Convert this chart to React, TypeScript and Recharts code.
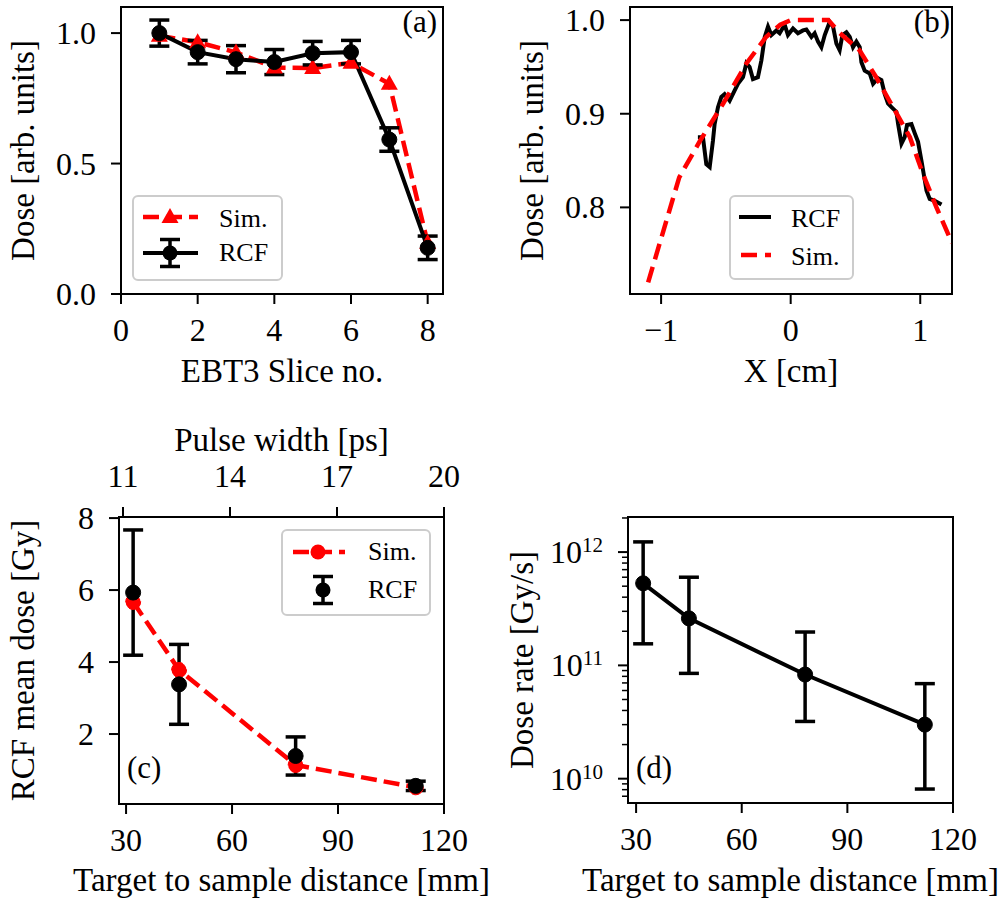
import React from 'react';
import { ComposedChart, Line, XAxis, YAxis, ErrorBar, ReferenceArea } from 'recharts';

const FONT = '"Liberation Serif", "Times New Roman", serif';
const RED = '#ff0000';
const BLACK = '#000000';

// (a) dose per EBT3 slice
const slices = [1, 2, 3, 4, 5, 6, 7, 8];
const sliceSim = [0.99, 0.965, 0.926, 0.868, 0.866, 0.886, 0.806, 0.195];
const sliceRcf = [1.0, 0.927, 0.9, 0.889, 0.923, 0.927, 0.592, 0.177];
const sliceRcfErr = [0.05, 0.045, 0.052, 0.048, 0.045, 0.045, 0.045, 0.045];

// (b) lateral dose profile
const profileX = [
  -0.716, -0.677, -0.651, -0.625, -0.6, -0.587, -0.561, -0.535, -0.51, -0.471, -0.432, -0.407, -0.368,
  -0.342, -0.317, -0.291, -0.253, -0.226, -0.2, -0.175, -0.149, -0.11, -0.085, -0.046, -0.021, 0.018,
  0.056, 0.095, 0.121, 0.16, 0.185, 0.211, 0.237, 0.263, 0.301, 0.327, 0.353, 0.378, 0.399, 0.43,
  0.456, 0.481, 0.507, 0.533, 0.546, 0.571, 0.61, 0.636, 0.674, 0.7, 0.726, 0.751, 0.778, 0.816,
  0.829, 0.855, 0.88, 0.898, 0.932, 0.958, 0.983, 1.009, 1.035, 1.048, 1.073, 1.112, 1.164,
];
const profileRcf = [
  0.875, 0.875, 0.846, 0.843, 0.871, 0.889, 0.907, 0.918, 0.921, 0.914, 0.925, 0.932, 0.939,
  0.954, 0.95, 0.937, 0.939, 0.957, 0.982, 0.993, 0.984, 0.989, 0.986, 0.995, 0.984, 0.991,
  0.986, 0.989, 0.99, 0.982, 0.986, 0.977, 0.971, 0.984, 0.998, 0.993, 0.975, 0.968, 0.984, 0.987,
  0.982, 0.971, 0.977, 0.971, 0.955, 0.946, 0.943, 0.932, 0.938, 0.936, 0.921, 0.911, 0.907, 0.902,
  0.889, 0.868, 0.875, 0.888, 0.889, 0.879, 0.87, 0.85, 0.829, 0.818, 0.809, 0.807, 0.803,
];
const simX = [-1.1, -0.86, -0.7, -0.52, -0.34, -0.19, -0.08, 0.0, 0.29, 0.38, 0.53, 0.66, 0.79, 0.92, 1.02, 1.125, 1.245];
const simProfile = [0.72, 0.832, 0.871, 0.911, 0.954, 0.982, 0.995, 1.0, 1.0, 0.986, 0.968, 0.939, 0.907, 0.875, 0.836, 0.8, 0.762];

// (c) mean dose vs distance
const distances = [32, 45, 78, 112];
const meanDoseSim = [5.67, 3.78, 1.14, 0.52];
const meanDoseRcf = [5.93, 3.38, 1.39, 0.56];
const meanDoseErr = [1.74, 1.11, 0.53, 0.13];
const pulseTicks = [11, 14, 17, 20];
// twin axis: pulse width [ps] <-> distance [mm]
const pulseToDist = (p: number) => 29.14 + (p - 11) * 10.096;
const distToPulse = (d: number) => Math.round((d - 29.14) / 10.096 + 11);

// (d) dose rate vs distance
const doseRate = [5.3e11, 2.6e11, 8.3e10, 3.0e10];
const doseRateLow = [1.55e11, 8.5e10, 3.2e10, 8.1e9];
const doseRateHigh = [1.23e12, 6.0e11, 1.97e11, 6.9e10];

const sliceRows = slices.map((s, i) => ({ slice: s, sim: sliceSim[i], rcf: sliceRcf[i], rcfErr: sliceRcfErr[i] }));
const profileRows = profileX.map((x, i) => ({ x, dose: profileRcf[i] }));
const simRows = simX.map((x, i) => ({ x, dose: simProfile[i] }));
const meanRows = distances.map((d, i) => ({ dist: d, sim: meanDoseSim[i], rcf: meanDoseRcf[i], err: meanDoseErr[i] }));
const rateRows = distances.map((d, i) => ({
  dist: d,
  rate: doseRate[i],
  err: [doseRate[i] - doseRateLow[i], doseRateHigh[i] - doseRate[i]],
}));

const rateDomain = [6.1e9, 2.04e12];
const rateTicks = [9, 10, 11, 12]
  .flatMap((e) => [1, 2, 3, 4, 5, 6, 7, 8, 9].map((m) => m * Math.pow(10, e)))
  .filter((v) => v >= rateDomain[0] && v <= rateDomain[1]);

const fmt = (v: number, digits: number) => {
  const s = Math.abs(v).toFixed(digits);
  return v < 0 ? '\u2212' + s : s;
};

const textProps = { fontFamily: FONT, fill: BLACK };

const bottomTick = (digits: number) => (props: any) => {
  const { x, y, payload } = props;
  return (
    <g>
      <line x1={x} y1={y} x2={x} y2={y + 10} stroke={BLACK} strokeWidth={2} />
      <text x={x} y={y + 47} textAnchor="middle" fontSize={32} {...textProps}>
        {fmt(payload.value, digits)}
      </text>
    </g>
  );
};

const topTick = (props: any) => {
  const { x, y, payload } = props;
  return (
    <g>
      <line x1={x} y1={y} x2={x} y2={y - 10} stroke={BLACK} strokeWidth={2} />
      <text x={x} y={y - 30} textAnchor="middle" fontSize={32} {...textProps}>
        {distToPulse(payload.value)}
      </text>
    </g>
  );
};

const leftTick = (digits: number) => (props: any) => {
  const { x, y, payload } = props;
  return (
    <g>
      <line x1={x - 10} y1={y} x2={x} y2={y} stroke={BLACK} strokeWidth={2} />
      <text x={x - 25} y={y + 11} textAnchor="end" fontSize={32} {...textProps}>
        {fmt(payload.value, digits)}
      </text>
    </g>
  );
};

const logTick = (props: any) => {
  const { x, y, payload } = props;
  const lg = Math.log10(payload.value);
  const major = Math.abs(lg - Math.round(lg)) < 1e-6;
  if (!major) {
    return <line x1={x - 6} y1={y} x2={x} y2={y} stroke={BLACK} strokeWidth={1.5} />;
  }
  return (
    <g>
      <line x1={x - 10} y1={y} x2={x} y2={y} stroke={BLACK} strokeWidth={2} />
      <text x={x - 25} y={y + 11} textAnchor="end" fontSize={32} {...textProps}>
        10
        <tspan fontSize={21} dy={-11}>
          {Math.round(lg)}
        </tspan>
      </text>
    </g>
  );
};

const label = (value: string, position: string, offset: number, angle = 0): any => ({
  value,
  position,
  offset,
  angle,
  style: { textAnchor: 'middle', fontSize: 33, fontFamily: FONT, fill: BLACK },
});

const axisLine = { stroke: BLACK, strokeWidth: 2 };
const tickOpts = { tickSize: 0, tickMargin: 0, tickLine: false, interval: 0 as const, axisLine };

const triangleDot = (p: any) => {
  const { cx, cy, index } = p;
  return <polygon key={`tri-${index}`} points={`${cx},${cy - 9} ${cx - 8.5},${cy + 6} ${cx + 8.5},${cy + 6}`} fill={RED} />;
};

const blackDot = { r: 7.5, fill: BLACK, stroke: BLACK, strokeWidth: 1 };
const redDot = { r: 7.5, fill: RED, stroke: RED, strokeWidth: 1 };

function Overlay() {
  const box = (x: number, y: number, w: number, h: number) => (
    <rect x={x} y={y} width={w} height={h} rx={5} fill="#fff" fillOpacity={0.8} stroke="#cccccc" strokeWidth={2} />
  );
  const errMark = (x: number, y: number) => (
    <g>
      <line x1={x} y1={y - 13.5} x2={x} y2={y + 13.5} stroke={BLACK} strokeWidth={3.5} />
      <line x1={x - 10} y1={y - 13.5} x2={x + 10} y2={y - 13.5} stroke={BLACK} strokeWidth={3.5} />
      <line x1={x - 10} y1={y + 13.5} x2={x + 10} y2={y + 13.5} stroke={BLACK} strokeWidth={3.5} />
      <circle cx={x} cy={y} r={7.5} fill={BLACK} />
    </g>
  );
  const lt = { fontSize: 26, ...textProps };
  const pl = { fontSize: 31, ...textProps };
  return (
    <svg width={1005} height={904} style={{ position: 'absolute', left: 0, top: 0, pointerEvents: 'none' }}>
      {/* legend (a) */}
      {box(133, 196, 149, 84)}
      <line x1={143} y1={217} x2={198} y2={217} stroke={RED} strokeWidth={4.5} strokeDasharray="16 7" />
      <polygon points={`170,208 161.5,223 178.5,223`} fill={RED} />
      <text x={219} y={227} {...lt}>Sim.</text>
      <line x1={143} y1={253} x2={198} y2={253} stroke={BLACK} strokeWidth={4} />
      {errMark(170, 253)}
      <text x={219} y={261} {...lt}>RCF</text>

      {/* legend (b) */}
      {box(730, 196, 123, 83)}
      <line x1={739} y1={217} x2={771} y2={217} stroke={BLACK} strokeWidth={4} />
      <text x={791} y={227} {...lt}>RCF</text>
      <line x1={741} y1={255} x2={771} y2={255} stroke={RED} strokeWidth={4.5} strokeDasharray="16 8" />
      <text x={791} y={265} {...lt}>Sim.</text>

      {/* legend (c) */}
      {box(282, 530, 148, 85)}
      <line x1={293} y1={552} x2={345} y2={552} stroke={RED} strokeWidth={4.5} strokeDasharray="16 7" />
      <circle cx={318} cy={552} r={7.5} fill={RED} />
      <text x={368} y={560} {...lt}>Sim.</text>
      {errMark(323, 590)}
      <text x={368} y={598} {...lt}>RCF</text>

      <text x={437} y={32} textAnchor="end" {...pl}>(a)</text>
      <text x={950} y={32} textAnchor="end" {...pl}>(b)</text>
      <text x={127} y={778} {...pl}>(c)</text>
      <text x={636} y={778} {...pl}>(d)</text>
    </svg>
  );
}

export default function App() {
  return (
    <div style={{ position: 'absolute', left: 0, top: 0, width: 1005, height: 904, background: '#fff', overflow: 'hidden' }}>
      <div style={{ position: 'absolute', left: 0, top: 0 }}>
        <ComposedChart width={500} height={400} data={sliceRows} margin={{ top: 7, right: 57, bottom: 0, left: 0 }}>
          <XAxis
            dataKey="slice"
            type="number"
            domain={[0, 8.4]}
            allowDataOverflow
            ticks={[0, 2, 4, 6, 8]}
            height={106}
            tick={bottomTick(0)}
            label={label('EBT3 Slice no.', 'insideBottom', 18)}
            {...tickOpts}
          />
          <YAxis
            type="number"
            domain={[0, 1.1]}
            allowDataOverflow
            ticks={[0, 0.5, 1.0]}
            width={121}
            tick={leftTick(1)}
            label={label('Dose [arb. units]', 'insideLeft', 22, -90)}
            {...tickOpts}
          />
          <ReferenceArea x1={0} x2={8.4} y1={0} y2={1.1} fill="none" stroke={BLACK} strokeWidth={2} ifOverflow="visible" />
          <Line dataKey="sim" stroke={RED} strokeWidth={4.5} strokeDasharray="16 7" dot={triangleDot} activeDot={false} isAnimationActive={false} />
          <Line dataKey="rcf" stroke={BLACK} strokeWidth={4} dot={blackDot} activeDot={false} isAnimationActive={false}>
            <ErrorBar dataKey="rcfErr" direction="y" width={10} strokeWidth={3.5} stroke={BLACK} />
          </Line>
        </ComposedChart>
      </div>

      <div style={{ position: 'absolute', left: 500, top: 0 }}>
        <ComposedChart width={505} height={400} margin={{ top: 7, right: 53, bottom: 0, left: 0 }}>
          <XAxis
            dataKey="x"
            type="number"
            domain={[-1.24, 1.245]}
            allowDataOverflow
            ticks={[-1, 0, 1]}
            height={106}
            tick={bottomTick(0)}
            label={label('X [cm]', 'insideBottom', 18)}
            {...tickOpts}
          />
          <YAxis
            type="number"
            domain={[0.7075, 1.014]}
            allowDataOverflow
            ticks={[0.8, 0.9, 1.0]}
            width={130}
            tick={leftTick(1)}
            label={label('Dose [arb. units]', 'insideLeft', 31, -90)}
            {...tickOpts}
          />
          <ReferenceArea x1={-1.24} x2={1.245} y1={0.7075} y2={1.014} fill="none" stroke={BLACK} strokeWidth={2} ifOverflow="visible" />
          <Line data={profileRows} dataKey="dose" stroke={BLACK} strokeWidth={4} dot={false} activeDot={false} isAnimationActive={false} />
          <Line data={simRows} dataKey="dose" stroke={RED} strokeWidth={4.5} strokeDasharray="16 8" dot={false} activeDot={false} isAnimationActive={false} />
        </ComposedChart>
      </div>

      <div style={{ position: 'absolute', left: 0, top: 420 }}>
        <ComposedChart width={500} height={484} data={meanRows} margin={{ top: 0, right: 56, bottom: 0, left: 0 }}>
          <XAxis
            dataKey="dist"
            type="number"
            domain={[28, 120]}
            allowDataOverflow
            ticks={[30, 60, 90, 120]}
            height={100}
            tick={bottomTick(0)}
            label={label('Target to sample distance [mm]', 'insideBottom', 13)}
            {...tickOpts}
          />
          <XAxis
            xAxisId="pulse"
            dataKey="dist"
            orientation="top"
            type="number"
            domain={[28, 120]}
            allowDataOverflow
            ticks={pulseTicks.map(pulseToDist)}
            height={97}
            tick={topTick}
            label={label('Pulse width [ps]', 'insideTop', 8)}
            {...tickOpts}
          />
          <YAxis
            type="number"
            domain={[0.056, 8.03]}
            allowDataOverflow
            ticks={[2, 4, 6, 8]}
            width={119}
            tick={leftTick(0)}
            label={label('RCF mean dose [Gy]', 'insideLeft', 22, -90)}
            {...tickOpts}
          />
          <ReferenceArea x1={28} x2={120} y1={0.056} y2={8.03} fill="none" stroke={BLACK} strokeWidth={2} ifOverflow="visible" />
          <Line xAxisId="pulse" dataKey="sim" stroke="none" dot={false} activeDot={false} legendType="none" isAnimationActive={false} />
          <Line dataKey="sim" stroke={RED} strokeWidth={4.5} strokeDasharray="16 7" dot={redDot} activeDot={false} isAnimationActive={false} />
          <Line dataKey="rcf" stroke="none" strokeWidth={0} dot={blackDot} activeDot={false} isAnimationActive={false}>
            <ErrorBar dataKey="err" direction="y" width={10} strokeWidth={3.5} stroke={BLACK} />
          </Line>
        </ComposedChart>
      </div>

      <div style={{ position: 'absolute', left: 500, top: 420 }}>
        <ComposedChart width={505} height={484} data={rateRows} margin={{ top: 97, right: 52, bottom: 0, left: 0 }}>
          <XAxis
            dataKey="dist"
            type="number"
            domain={[27.7, 120]}
            allowDataOverflow
            ticks={[30, 60, 90, 120]}
            height={101}
            tick={bottomTick(0)}
            label={label('Target to sample distance [mm]', 'insideBottom', 13)}
            {...tickOpts}
          />
          <YAxis
            type="number"
            scale="log"
            domain={rateDomain}
            allowDataOverflow
            ticks={rateTicks}
            width={128}
            tick={logTick}
            label={label('Dose rate [Gy/s]', 'insideLeft', 21, -90)}
            {...tickOpts}
          />
          <ReferenceArea x1={27.7} x2={120} y1={rateDomain[0]} y2={rateDomain[1]} fill="none" stroke={BLACK} strokeWidth={2} ifOverflow="visible" />
          <Line dataKey="rate" stroke={BLACK} strokeWidth={4} dot={blackDot} activeDot={false} isAnimationActive={false}>
            <ErrorBar dataKey="err" direction="y" width={10} strokeWidth={3.5} stroke={BLACK} />
          </Line>
        </ComposedChart>
      </div>

      <Overlay />
    </div>
  );
}
